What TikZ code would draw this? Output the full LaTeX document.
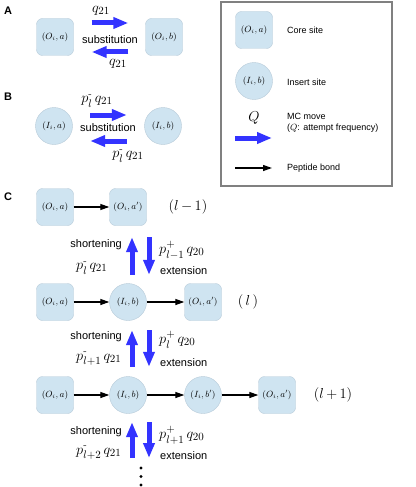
\documentclass[tikz,border=0pt]{standalone}
\usepackage{amsmath}
\usepackage{fontspec}
\newfontfamily\lsans{Liberation Sans}
\usetikzlibrary{arrows.meta,positioning}

\definecolor{sitefill}{RGB}{207,228,241}
\definecolor{siteline}{RGB}{182,202,216}
\definecolor{mcblue}{RGB}{51,51,255}

\begin{document}
\begin{tikzpicture}[x=1pt,y=-1pt,
  core/.style={draw=siteline,fill=sitefill,rounded corners=6pt,minimum size=37pt,inner sep=1pt,font=\fontsize{9}{10}\selectfont},
  ins/.style={circle,draw=siteline,fill=sitefill,minimum size=37pt,inner sep=1pt,font=\fontsize{9}{10}\selectfont},
  mc/.style={mcblue,line width=5pt,-{Triangle[width=11pt,length=15pt]}},
  bond/.style={line width=1.2pt,-{Triangle[width=6pt,length=9pt]}},
  lab/.style={font=\lsans\fontsize{11}{13}\selectfont,inner sep=1pt},
  leg/.style={font=\lsans\fontsize{9}{11}\selectfont,inner sep=1pt,anchor=west,align=left},
  rate/.style={font=\fontsize{15}{17}\selectfont,inner sep=1pt},
  panel/.style={font=\lsans\bfseries\fontsize{11}{13}\selectfont,inner sep=0pt}]
\useasboundingbox (0,0) rectangle (415,487);

% A: substitution between core sites
\node[panel] (pA) at (8,11) {A};
\node[core] (a1) at (55,37) {$(O_i,a)$};
\node[core] (a2) at (164,37) {$(O_i,b)$};
\node[lab] (subA) at (110,40) {substitution};
\draw[mc] ([xshift=18pt,yshift=14pt]a1.east) -- ([xshift=-17pt,yshift=14pt]a2.west);
\draw[mc] ([xshift=-17pt,yshift=-15pt]a2.west) -- ([xshift=18pt,yshift=-15pt]a1.east);
\node[rate] (qa1) at (101,11) {$q_{21}$};
\node[rate] (qa2) at (118,64) {$q_{21}$};

% B: substitution between insert sites
\node[panel] (pB) at (8,97) {B};
\node[ins] (b1) at (54,126) {$(I_i,a)$};
\node[ins] (b2) at (163,126) {$(I_i,b)$};
\node[lab] (subB) at (108,128) {substitution};
\draw[mc] ([xshift=17.5pt,yshift=11pt]b1.east) -- ([xshift=-17.5pt,yshift=11pt]b2.west);
\draw[mc] ([xshift=-17.5pt,yshift=-15pt]b2.west) -- ([xshift=17.5pt,yshift=-15pt]b1.east);
\node[rate] (qb1) at (97,101) {$p_l^{\text{-}}\,q_{21}$};
\node[rate] (qb2) at (128,156) {$p_l^{\text{-}}\,q_{21}$};

% legend
\draw[gray,line width=1.5pt] (221,2) rectangle (392,186);
\node[core] (lc) at (254,30) {$(O_i,a)$};
\node[leg] (lct) at (286,30) {Core site};
\node[ins] (li) at (254,81) {$(I_i,b)$};
\node[leg] (lit) at (286,82) {Insert site};
\node[rate] (lq) at (254,118) {$Q$};
\coordinate (lm1) at (235,138);
\coordinate (lm2) at (272,138);
\draw[mc] (lm1) -- (lm2);
\node[leg] (lmt) at (286,123) {MC move\\($Q$: attempt frequency)};
\coordinate (lb1) at (235,168);
\coordinate (lb2) at (272,168);
\draw[bond] (lb1) -- (lb2);
\node[leg] (lbt) at (286,168) {Peptide bond};

% C: chains of length l-1, l, l+1
\node[panel] (pC) at (8,197) {C};
\node[core] (r1a) at (55,207) {$(O_i,a)$};
\node[core] (r1b) at (128,207) {$(O_i,a')$};
\node[rate] (n1) at (188,207) {$(l\,{-}\,1)$};
\draw[bond] (r1a) -- (r1b);

\node[core] (r2a) at (55,302) {$(O_i,a)$};
\node[ins] (r2b) at (128,302) {$(I_i,b)$};
\node[core] (r2c) at (203,302) {$(O_i,a')$};
\node[rate] (n2) at (248,302) {$(\,l\,)$};
\draw[bond] (r2a) -- (r2b);
\draw[bond] (r2b) -- (r2c);

\node[core] (r3a) at (55,395) {$(O_i,a)$};
\node[ins] (r3b) at (128,395) {$(I_i,b)$};
\node[ins] (r3c) at (203,395) {$(I_i,b')$};
\node[core] (r3d) at (277,395) {$(O_i,a')$};
\node[rate] (n3) at (333,395) {$(l\,{+}\,1)$};
\draw[bond] (r3a) -- (r3b);
\draw[bond] (r3b) -- (r3c);
\draw[bond] (r3c) -- (r3d);
\coordinate (r4) at (128,458);

% shortening / extension moves
\draw[mc] ([xshift=4pt,yshift=8.5pt]r2b.north) -- ([xshift=4pt,yshift=-11.5pt]r1b.south);
\draw[mc] ([xshift=21pt,yshift=-11.5pt]r1b.south) -- ([xshift=21pt,yshift=8.5pt]r2b.north);
\node[lab,anchor=east] (s1) at (123,245) {shortening};
\node[rate,anchor=west] (ps1) at (75,268) {$p_l^{\text{-}}\,q_{21}$};
\node[rate,anchor=west] (pe1) at (158,250) {$p_{l-1}^{+}\,q_{20}$};
\node[lab,anchor=west] (e1) at (159,271) {extension};

\draw[mc] ([xshift=4pt,yshift=9.5pt]r3b.north) -- ([xshift=4pt,yshift=-9.5pt]r2b.south);
\draw[mc] ([xshift=21pt,yshift=-9.5pt]r2b.south) -- ([xshift=21pt,yshift=9.5pt]r3b.north);
\node[lab,anchor=east] (s2) at (123,337) {shortening};
\node[rate,anchor=west] (ps2) at (75,359) {$p_{l+1}^{\text{-}}\,q_{21}$};
\node[rate,anchor=west] (pe2) at (158,340) {$p_l^{+}\,q_{20}$};
\node[lab,anchor=west] (e2) at (159,363) {extension};

\draw[mc] ([xshift=4pt]r4) -- ([xshift=4pt,yshift=-8.5pt]r3b.south);
\draw[mc] ([xshift=21pt,yshift=-8.5pt]r3b.south) -- ([xshift=21pt]r4);
\node[lab,anchor=east] (s3) at (123,432) {shortening};
\node[rate,anchor=west] (ps3) at (75,453) {$p_{l+2}^{\text{-}}\,q_{21}$};
\node[rate,anchor=west] (pe3) at (158,435) {$p_{l+1}^{+}\,q_{20}$};
\node[lab,anchor=west] (e3) at (159,456) {extension};

\foreach \y in {468,476.5,485}
  \fill (141,\y) circle (1.6pt);
\end{tikzpicture}
\end{document}
